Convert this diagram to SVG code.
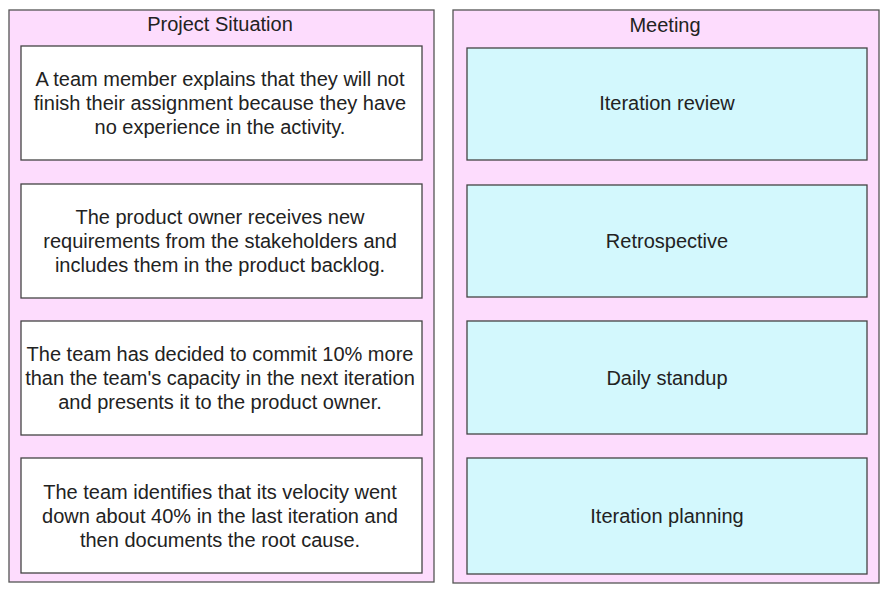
<svg xmlns="http://www.w3.org/2000/svg" width="886" height="592" viewBox="0 0 886 592">
<style>
.panel{fill:#fddcfd;stroke:#555;stroke-width:1.3}
.sit{fill:#ffffff;stroke:#444;stroke-width:1.3}
.meet{fill:#d3f8fd;stroke:#444;stroke-width:1.3}
text{font-family:"Liberation Sans",Arial,sans-serif;font-size:20px;fill:#222;text-anchor:middle}
</style>
<rect width="886" height="592" fill="#ffffff"/>
<g id="panel-situation">
<rect class="panel" x="9" y="10" width="425" height="572"/>
<text x="220" y="31">Project Situation</text>
</g>
<g id="panel-meeting">
<rect class="panel" x="453" y="10" width="426" height="573"/>
<text x="665" y="32">Meeting</text>
</g>
<g id="sit1">
<rect class="sit" x="21" y="46" width="401" height="114"/>
<text x="220" y="86">A team member explains that they will not</text>
<text x="220" y="110">finish their assignment because they have</text>
<text x="220" y="134">no experience in the activity.</text>
</g>
<g id="sit2">
<rect class="sit" x="21" y="184" width="401" height="114"/>
<text x="220" y="224">The product owner receives new</text>
<text x="220" y="248">requirements from the stakeholders and</text>
<text x="220" y="272">includes them in the product backlog.</text>
</g>
<g id="sit3">
<rect class="sit" x="21" y="321" width="401" height="114"/>
<text x="220" y="361">The team has decided to commit 10% more</text>
<text x="220" y="385">than the team's capacity in the next iteration</text>
<text x="220" y="409">and presents it to the product owner.</text>
</g>
<g id="sit4">
<rect class="sit" x="21" y="458" width="401" height="115"/>
<text x="220" y="499">The team identifies that its velocity went</text>
<text x="220" y="523">down about 40% in the last iteration and</text>
<text x="220" y="547">then documents the root cause.</text>
</g>
<g id="meet1">
<rect class="meet" x="467" y="48" width="400" height="112"/>
<text x="667" y="110">Iteration review</text>
</g>
<g id="meet2">
<rect class="meet" x="467" y="185" width="400" height="112"/>
<text x="667" y="248">Retrospective</text>
</g>
<g id="meet3">
<rect class="meet" x="467" y="321" width="400" height="113"/>
<text x="667" y="385">Daily standup</text>
</g>
<g id="meet4">
<rect class="meet" x="467" y="458" width="400" height="116"/>
<text x="667" y="523">Iteration planning</text>
</g>
<g id="connectors"/>
</svg>
